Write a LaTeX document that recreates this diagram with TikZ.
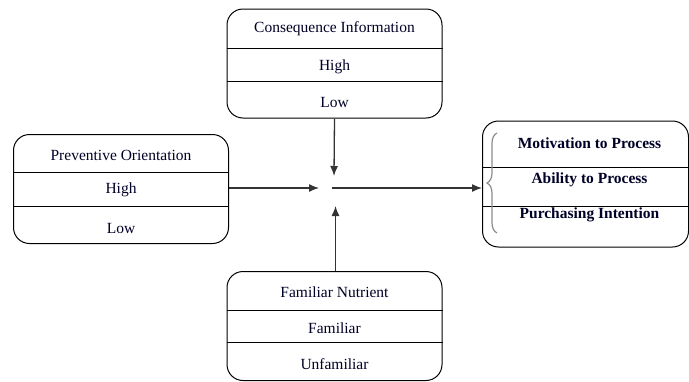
\documentclass[tikz,border=0pt]{standalone}
\usepackage{fontspec}
\setmainfont{Liberation Serif}
\usetikzlibrary{arrows.meta,decorations.pathreplacing}
\begin{document}
\begin{tikzpicture}[x=1pt,y=-1pt,
  box/.style={draw=black,line width=1pt,rounded corners=16pt,minimum width=215pt,minimum height=109pt,inner sep=0pt},
  lbl/.style={font=\fontsize{15.5}{18}\selectfont,inner sep=0pt,text=black!85!blue},
  blbl/.style={lbl,font=\fontsize{15.5}{18}\selectfont\bfseries},
  divline/.style={draw=black,line width=1pt},
  conn/.style={draw=black!80,line width=1.3pt,-{Latex[length=10pt,width=8pt]}},
  plain/.style={draw=black!70,line width=1.3pt}]
\useasboundingbox (0,0) rectangle (689,381);

% Consequence Information box
\node[box] (ci) at (334.5,63.5) {};
\draw[divline] (ci.west |- 0,48) -- (ci.east |- 0,48);
\draw[divline] (ci.west |- 0,81) -- (ci.east |- 0,81);
\node[lbl] (ci1) at (334.5,29) {Consequence Information};
\node[lbl] (ci2) at (334.5,67) {High};
\node[lbl] (ci3) at (334.5,102) {Low};

% Preventive Orientation box
\node[box] (po) at (121,189) {};
\draw[divline] (po.west |- 0,172) -- (po.east |- 0,172);
\draw[divline] (po.west |- 0,206) -- (po.east |- 0,206);
\node[lbl] (po1) at (121,155) {Preventive Orientation};
\node[lbl] (po2) at (121,190) {High};
\node[lbl] (po3) at (121,228) {Low};

% Familiar Nutrient box
\node[box] (fn) at (334.5,326) {};
\draw[divline] (fn.west |- 0,310) -- (fn.east |- 0,310);
\draw[divline] (fn.west |- 0,342) -- (fn.east |- 0,342);
\node[lbl] (fn1) at (334.5,292) {Familiar Nutrient};
\node[lbl] (fn2) at (334.5,328) {Familiar};
\node[lbl] (fn3) at (334.5,364) {Unfamiliar};

% Outcome box
\node[box,minimum width=206pt,minimum height=126pt] (out) at (585.5,184) {};
\draw[divline] (out.west |- 0,167) -- (out.east |- 0,167);
\draw[divline] (out.west |- 0,206) -- (out.east |- 0,206);
\node[blbl] (o1) at (589.5,143) {Motivation to Process};
\node[blbl] (o2) at (589.5,180) {Ability to Process};
\node[blbl] (o3) at (589.5,215) {Purchasing Intention};
\draw[draw=black!45,line width=1.2pt,decorate,decoration={brace,amplitude=10pt}]
  (497,233) -- (497,133);

% connectors
\coordinate (cdown) at (334,176);
\coordinate (cleft) at (319,188);
\coordinate (cup) at (335.5,206);
\coordinate (cstart) at (332,188);
\draw[conn] (ci.south) -- (cdown);
\draw[conn] (po.east |- 0,188) -- (cleft);
\draw[conn] (fn.north -| cup) -- (cup);
\draw[conn] (cstart) -- (out.west |- cstart);
\end{tikzpicture}
\end{document}
